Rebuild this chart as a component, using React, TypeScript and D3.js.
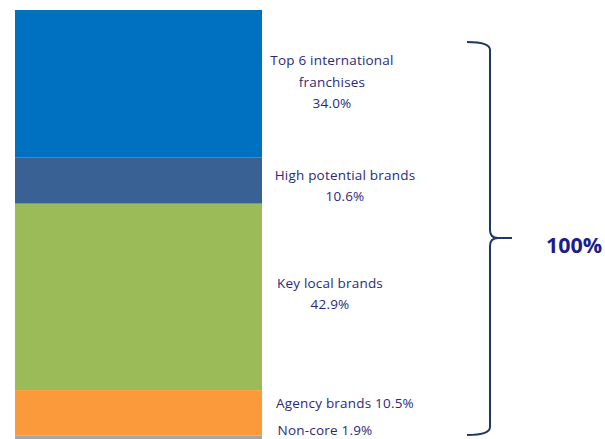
import React from "react";
import * as d3 from "d3";

const WIDTH = 605;
const HEIGHT = 439;

// segment data (top to bottom)
const categories = [
  "Top 6 international franchises",
  "High potential brands",
  "Key local brands",
  "Agency brands",
  "Non-core",
];
const shares = [34.0, 10.6, 42.9, 10.5, 1.9];
const colors = ["#0070C0", "#3A6194", "#9BBB59", "#FB9A3A", "#A6A6A6"];
const labelLines = [
  ["Top 6 international", "franchises", "34.0%"],
  ["High potential brands", "10.6%"],
  ["Key local brands", "42.9%"],
  ["Agency brands 10.5%"],
  ["Non-core 1.9%"],
];
const totalLabel = "100%";

const TEXT_COLOR = "#2B2A7A";
const LINE_H = 21.5;

const App = () => {
  const x0 = 15;
  const x1 = 262;

  const y = d3.scaleLinear().domain([0, 100]).range([10, 444.4]);

  let acc = 0;
  const segs = shares.map((v, i) => {
    const start = acc;
    acc += v;
    return { name: categories[i], start, end: acc, color: colors[i], lines: labelLines[i] };
  });

  // small vertical nudges so bottom labels don't collide
  const nudge = [-2, 5, -3, -10, -10];
  const labelX = [332, 345, 330, 345, 325];

  const braceTop = y(segs[0].start) + 32;
  const braceBot = 435;
  const braceMid = 238;
  const bx = 490;
  const brace = d3.path();
  brace.moveTo(467, braceTop);
  brace.quadraticCurveTo(bx, braceTop, bx, braceTop + 8);
  brace.lineTo(bx, braceMid - 8);
  brace.quadraticCurveTo(bx, braceMid, bx + 8, braceMid);
  brace.lineTo(512, braceMid);
  brace.moveTo(bx + 8, braceMid);
  brace.quadraticCurveTo(bx, braceMid, bx, braceMid + 8);
  brace.lineTo(bx, braceBot - 8);
  brace.quadraticCurveTo(bx, braceBot, 467, braceBot);

  return (
    <svg
      width={WIDTH}
      height={HEIGHT}
      style={{ position: "absolute", left: 0, top: 0 }}
      fontFamily="'Open Sans', 'Liberation Sans', sans-serif"
    >
      <rect width={WIDTH} height={HEIGHT} fill="#fff" />
      {segs.map((s) => (
        <rect
          key={s.name}
          x={x0}
          y={y(s.start)}
          width={x1 - x0}
          height={y(s.end) - y(s.start)}
          fill={s.color}
        />
      ))}
      {segs.map((s, i) => {
        const mid = (y(s.start) + y(s.end)) / 2 + nudge[i];
        const n = s.lines.length;
        return (
          <text
            key={"l" + i}
            x={labelX[i]}
            textAnchor="middle"
            fontSize={13.5}
            letterSpacing={0.2}
            fill={TEXT_COLOR}
          >
            {s.lines.map((t, j) => (
              <tspan key={j} x={labelX[i]} y={mid + (j - (n - 1) / 2) * LINE_H} dy="0.35em">
                {t}
              </tspan>
            ))}
          </text>
        );
      })}
      <path d={brace.toString()} fill="none" stroke="#1F3864" strokeWidth={2} />
      <text
        x={574}
        y={245}
        dy="0.35em"
        textAnchor="middle"
        fontSize={21.5}
        fontWeight="bold"
        fill="#1C1C8A"
      >
        {totalLabel}
      </text>
    </svg>
  );
};

export default App;
